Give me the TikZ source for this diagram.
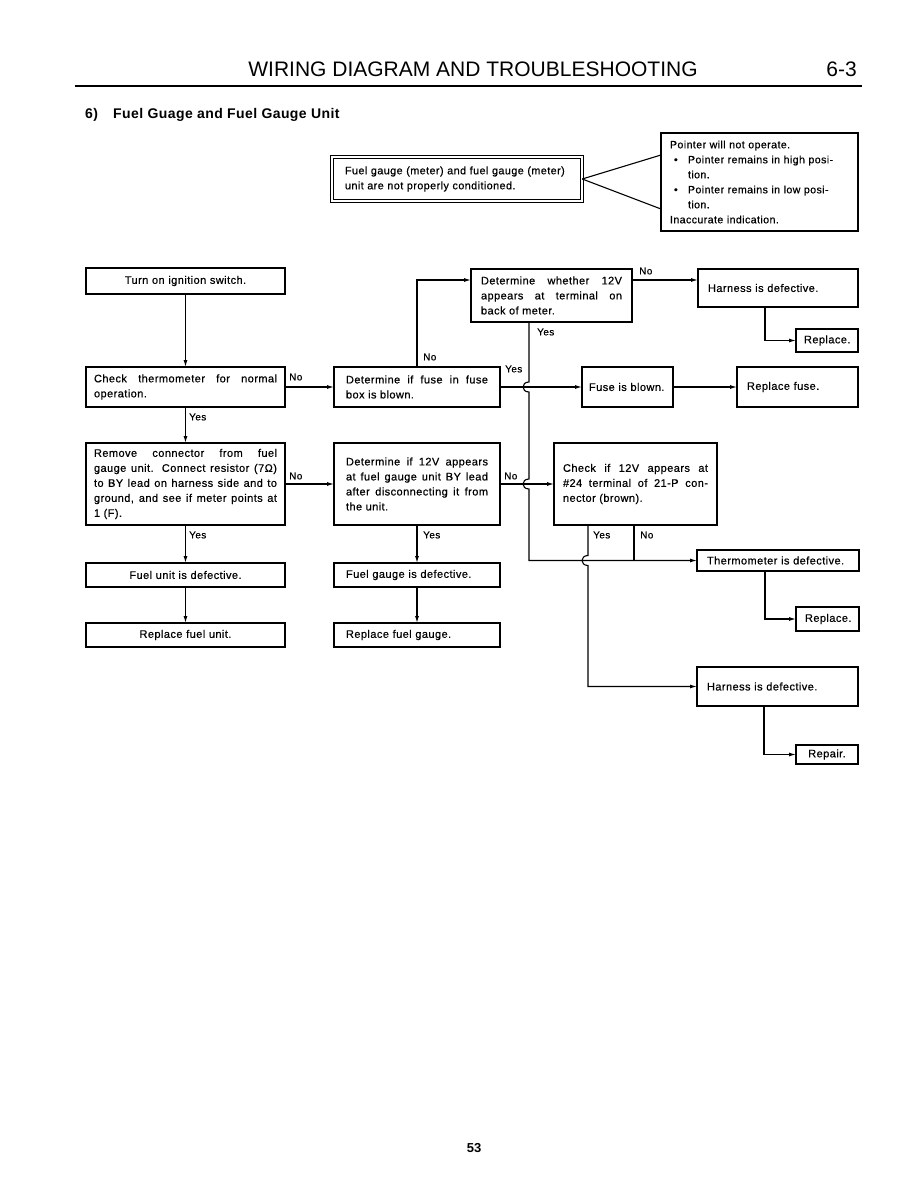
\documentclass[tikz,border=0pt]{standalone}
\usepackage{fontspec}
\setmainfont{Liberation Sans}
\newfontfamily\boxf{Liberation Sans}[LetterSpace=4,FakeBold=0.5]
\newfontfamily\subf{Liberation Sans}[LetterSpace=3]
\usetikzlibrary{arrows.meta,calc}
\newcommand{\fcbox}[8]{%
 \pgfmathsetmacro\fcw{#4-#2}%
 \pgfmathsetmacro\fch{#5-#3}%
 \pgfmathsetmacro\fctw{#4-#2-2*#6}%
 \node[fcb, anchor=north west, minimum width=\fcw pt, minimum height=\fch pt,
   text width=\fctw pt, inner xsep=#6 pt, align=#7] (#1) at (#2,#3) {#8};}
\newcommand{\bul}{\makebox[18pt][l]{\hspace{4pt}\textbullet}}
\tikzset{
  fcb/.style={draw, line width=1.3pt, outer sep=0pt, inner ysep=2pt,
    font=\boxf\fontsize{11}{15}\selectfont},
  conn/.style={line width=1.1pt},
  arr/.style={conn, -{Latex[length=7pt,width=4pt]}},
  lbl/.style={font=\boxf\fontsize{10}{12}\selectfont, inner sep=0pt, anchor=west},
}
\begin{document}
\begin{tikzpicture}[x=1pt,y=-1pt]
\fill[white] (0,0) rectangle (916,1188);
\useasboundingbox (0,0) rectangle (916,1188);

% header
\node[font=\fontsize{21}{25}\selectfont, anchor=base, inner sep=0pt] (title) at (473,77) {WIRING DIAGRAM AND TROUBLESHOOTING};
\node[font=\fontsize{21}{25}\selectfont, anchor=base east, inner sep=0pt] (pg) at (857,77) {6-3};
\draw[line width=2.5pt] (75,86) -- (862,86);
\node[font=\subf\bfseries\fontsize{14}{16}\selectfont, anchor=base west, inner sep=0pt] (secno) at (85,118) {6)};
\node[font=\subf\bfseries\fontsize{14}{16}\selectfont, anchor=base west, inner sep=0pt] (sec) at (113,118) {Fuel Guage and Fuel Gauge Unit};

% problem and symptoms
\node[draw, double, double distance=2.2pt, line width=0.8pt, outer sep=0pt, anchor=north west,
  minimum width=250.5pt, minimum height=44.5pt, text width=224pt, inner xsep=13pt, align=left,
  font=\boxf\fontsize{10.8}{15}\selectfont] (PB) at (331.75,156.75)
  {Fuel gauge (meter) and fuel gauge (meter)\\unit are not properly conditioned.};
\node[draw, line width=1.2pt, outer sep=0pt, anchor=north west, minimum width=197pt, minimum height=98pt,
  text width=179pt, inner xsep=9pt, align=left, font=\boxf\fontsize{10.6}{15}\selectfont] (SB) at (661,133)
  {Pointer will not operate.\\
   \bul\makebox[160pt][s]{Pointer remains in high posi-}\\
   \hspace*{18pt}tion.\\
   \bul\makebox[160pt][s]{Pointer remains in low posi-}\\
   \hspace*{18pt}tion.\\
   Inaccurate indication.};
\draw[conn] (PB.east) -- (SB.west |- 0,155);
\draw[conn] (PB.east) -- (SB.west |- 0,209);

% left column
\fcbox{A}{86}{268}{285}{294}{8}{center}{Turn on ignition switch.}
\fcbox{B}{86}{367}{285}{407}{8}{justify}{Check thermometer for normal\linebreak operation.}
\fcbox{C}{86}{443}{285}{525}{8}{justify}{Remove connector from fuel\linebreak gauge unit. Connect resistor (7Ω)\linebreak to BY lead on harness side and to\linebreak ground, and see if meter points at\linebreak 1 (F).}
\fcbox{D}{86}{563}{285}{587}{8}{center}{Fuel unit is defective.}
\fcbox{E}{86}{623}{285}{647}{8}{center}{Replace fuel unit.}

% middle column
\fcbox{F}{334}{367}{500}{407}{12}{justify}{Determine if fuse in fuse\linebreak box is blown.}
\fcbox{G}{334}{443}{500}{525}{12}{justify}{Determine if 12V appears\linebreak at fuel gauge unit BY lead\linebreak after disconnecting it from\linebreak the unit.}
\fcbox{H}{334}{563}{500}{587}{12}{left}{Fuel gauge is defective.}
\fcbox{I}{334}{623}{500}{647}{12}{left}{Replace fuel gauge.}
\fcbox{J}{471}{269}{632}{322}{10}{justify}{Determine whether 12V\linebreak appears at terminal on\linebreak back of meter.}

% right column
\fcbox{K}{698}{269}{858}{307}{10}{left}{Harness is defective.}
\fcbox{L}{796}{329}{858}{352}{8}{left}{Replace.}
\fcbox{M}{582}{367}{673}{407}{7}{left}{Fuse is blown.}
\fcbox{N}{737}{367}{858}{407}{10}{left}{Replace fuse.}
\fcbox{O}{554}{443}{717}{525}{9}{justify}{Check if 12V appears at\linebreak \#24 terminal of 21-P con-\linebreak nector (brown).}
\fcbox{P}{697}{550}{859}{571}{10}{left}{Thermometer is defective.}
\fcbox{Q}{796}{607}{859}{631}{9}{left}{Replace.}
\fcbox{R}{697}{667}{858}{706}{10}{left}{Harness is defective.}
\fcbox{S}{796}{745}{858}{764}{6}{center}{Repair.}

% connectors
\draw[arr] (A.south) -- (B.north);
\draw[arr] (B.south) -- (C.north);
\node[lbl] (yBC) at (189,417) {Yes};
\draw[arr] (C.south) -- (D.north);
\node[lbl] (yCD) at (189,535) {Yes};
\draw[arr] (D.south) -- (E.north);
\draw[arr] (B.east) -- (F.west);
\node[lbl] (nBF) at (289,377) {No};
\draw[arr] (C.east) -- (G.west);
\node[lbl] (nCG) at (289,476) {No};
\draw[arr] (F.north -| 417,0) |- (J.west |- 0,280);
\node[lbl] (nFJ) at (423,357) {No};
\draw[arr] (J.east |- 0,280) -- (K.west |- 0,280);
\node[lbl] (nJK) at (639,271) {No};
\draw[arr] (K.south -| 765,0) |- (L.west);
\draw[arr] (F.east) -- (M.west);
\node[lbl] (yFM) at (505,369) {Yes};
\draw[arr] (M.east) -- (N.west);
\draw[arr] (G.east) -- (O.west);
\node[lbl] (nGO) at (504,476) {No};
\draw[arr] (G.south) -- (H.north);
\node[lbl] (yGH) at (423,535) {Yes};
\draw[arr] (H.south) -- (I.north);
\draw[arr] (J.south -| 529,0) -- (529,382) .. controls (521,382) and (521,392) .. (529,392)
  -- (529,479) .. controls (521,479) and (521,489) .. (529,489) |- (P.west);
\node[lbl] (yJ) at (537,332) {Yes};
\draw[arr] (O.south -| 588,0) -- (588,555.5) .. controls (580,555.5) and (580,565.5) .. (588,565.5) |- (R.west);
\node[lbl] (yO) at (593,535) {Yes};
\draw[conn] (O.south -| 634,0) -- (P.west -| 634,0);
\node[lbl] (nO) at (640,535) {No};
\draw[arr] (P.south -| 765,0) |- (Q.west);
\draw[arr] (R.south -| 764,0) |- (S.west);

% page number
\node[font=\fontsize{13}{15}\selectfont\bfseries, anchor=base, inner sep=0pt] (pnum) at (474,1152) {53};
\end{tikzpicture}
\end{document}
